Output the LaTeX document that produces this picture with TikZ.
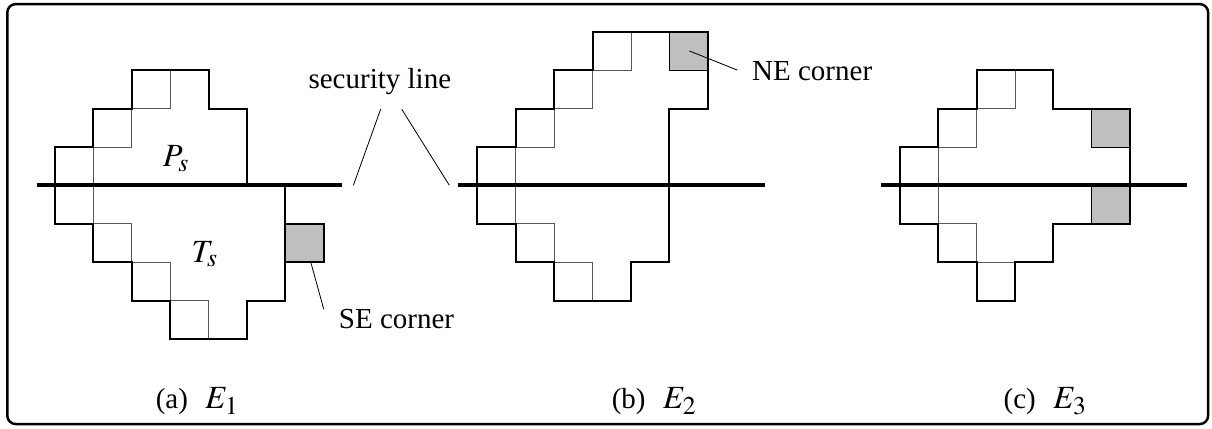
\documentclass[tikz,border=0pt]{standalone}
\usepackage{mathptmx}
\usepackage{fontspec}
\setmainfont{Liberation Serif}
\DeclareMathSizes{21.5}{24}{19}{15}
\definecolor{cornergray}{gray}{0.75}

\begin{document}
\begin{tikzpicture}[
    outline/.style={line width=1.5pt},
    cell/.style={line width=0.6pt, black!65},
    corner/.style={fill=cornergray, line width=0.6pt},
    secline/.style={line width=3pt},
    leader/.style={line width=0.6pt},
    font=\fontsize{21.5}{26}\selectfont]
    \useasboundingbox (-1.432,-6.32) rectangle (30.13,4.826);
    \draw[line width=1.8pt, rounded corners=0.22cm] (-1.242,-6.217) rectangle (30.03,4.72);

    % (a)
    \foreach \x/\y in {2/2,1/1,0/0,0/-1,1/-2,2/-3,3/-4}
        \draw[cell] (\x,\y) rectangle ++(1,1);
    \draw[corner, outline] (6,-2) rectangle (7,-1);
    \draw[outline] (2,3) -| (4,2) -| (5,0) -| (6,-3) -| (5,-4) -| (3,-3) -| (2,-2)
        -| (1,-1) -| (0,1) -| (1,2) -- (2,2) -- cycle;
    \draw[secline] (-0.48,0) -- (7.48,0);
    \node[anchor=base] (ps) at (3.15,0.48) {$P_s$};
    \node[anchor=base] (ts) at (3.9,-2.0) {$T_s$};

    % (b)
    \begin{scope}[xshift=11cm]
        \foreach \x/\y in {3/3,2/2,1/1,0/0,0/-1,1/-2,2/-3}
            \draw[cell] (\x,\y) rectangle ++(1,1);
        \draw[corner] (5,3) rectangle (6,4);
        \draw[outline] (3,4) -| (6,2) -| (5,-2) -| (4,-3) -| (2,-2) -| (1,-1)
            -| (0,1) -| (1,2) -| (2,3) -- (3,3) -- cycle;
        \draw[secline] (-0.5,0) -- (7.48,0);
    \end{scope}

    % (c)
    \begin{scope}[xshift=22cm]
        \foreach \x/\y in {2/2,1/1,0/0,0/-1,1/-2,2/-3}
            \draw[cell] (\x,\y) rectangle ++(1,1);
        \draw[corner] (5,1) rectangle (6,2);
        \draw[corner] (5,-1) rectangle (6,0);
        \draw[outline] (2,3) -| (4,2) -| (6,-1) -| (4,-2) -| (3,-3) -| (2,-2)
            -| (1,-1) -| (0,1) -| (1,2) -- (2,2) -- cycle;
        \draw[secline] (-0.48,0) -- (7.48,0);
    \end{scope}

    % labels and leaders
    \node[anchor=base] (secline) at (8.46,2.53) {security line};
    \coordinate (sl-a) at (8.48,1.98);
    \coordinate (sl-b) at (9.03,1.98);
    \coordinate (sl-aend) at (7.77,0);
    \coordinate (sl-bend) at (10.27,0);
    \draw[leader] (sl-a) -- (sl-aend);
    \draw[leader] (sl-b) -- (sl-bend);

    \node[anchor=base west] (se) at (7.27,-3.74) {SE corner};
    \coordinate (se-cell) at (6.66,-2);
    \coordinate (se-end) at (7.0,-3.23);
    \draw[leader] (se-cell) -- (se-end);

    \node[anchor=base west] (ne) at (18.03,2.74) {NE corner};
    \coordinate (ne-cell) at (16.52,3.5);
    \coordinate (ne-end) at (17.77,3.0);
    \draw[leader] (ne-cell) -- (ne-end);

    \node[anchor=base west] (capa) at (2.5,-5.8) {(a)\hspace{0.6em}$E_1$};
    \node[anchor=base west] (capb) at (14.375,-5.8) {(b)\hspace{0.6em}$E_2$};
    \node[anchor=base west] (capc) at (24.58,-5.8) {(c)\hspace{0.6em}$E_3$};
\end{tikzpicture}
\end{document}
